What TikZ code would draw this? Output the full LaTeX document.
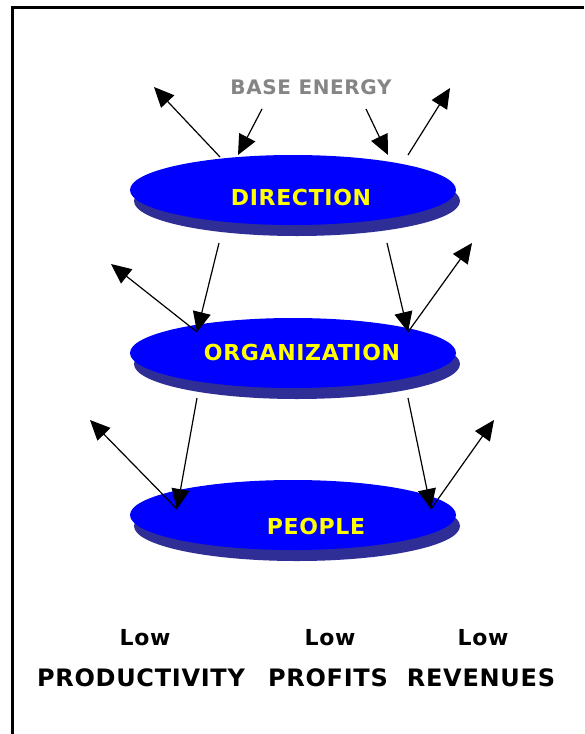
\documentclass[tikz,border=0pt]{standalone}
\usepackage{fontspec}
\setmainfont{DejaVu Sans}
\newfontfamily\labfont[LetterSpace=3]{DejaVu Sans Bold}
\usetikzlibrary{arrows.meta,shapes.geometric,shadows}
\definecolor{discblue}{HTML}{0000FF}
\definecolor{discshade}{HTML}{2E2E96}
\definecolor{txtyellow}{HTML}{FFFF00}
\definecolor{txtgray}{HTML}{858585}
\tikzset{
  disc/.style={ellipse, fill=discblue, minimum width=326pt, minimum height=70pt, inner sep=0pt,
    drop shadow={shadow xshift=4pt, shadow yshift=-11pt, fill=discshade, opacity=1}},
  disclabel/.style={text=txtyellow, font=\labfont\fontsize{22}{22}\selectfont, inner sep=0pt},
  flow/.style={line width=1.2pt, -{Triangle[length=20pt,width=18pt]}},
  bottomtxt/.style={font=\labfont\fontsize{24}{24}\selectfont, inner sep=0pt},
  lowtxt/.style={font=\labfont\fontsize{22}{22}\selectfont, inner sep=0pt},
  frameline/.style={line width=3pt}
}
\begin{document}
\begin{tikzpicture}[x=1pt,y=-1pt]
\useasboundingbox (0,0) rectangle (584,734);
\fill[white] (0,0) rectangle (584,734);
% frame
\coordinate (fbl) at (12.5,734);
\coordinate (ftl) at (12.5,7.5);
\coordinate (ftr) at (584,7.5);
\draw[frameline] (fbl) -- (ftl) -- (ftr);
% title
\node[text=txtgray, font=\labfont\fontsize{20}{20}\selectfont, inner sep=0pt] (base) at (311,87) {BASE ENERGY};
% discs
\node[disc] (dir) at (293,190) {};
\node[disc] (org) at (293,353) {};
\node[disc] (ppl) at (293,515) {};
\node[disclabel] (dirt) at (301,197) {DIRECTION};
\node[disclabel] (orgt) at (302,352) {ORGANIZATION};
\node[disclabel] (pplt) at (316,526) {PEOPLE};
% coordinates
\coordinate (a1s) at (220,157); \coordinate (a1e) at (154,87);
\coordinate (a2s) at (262,109); \coordinate (a2e) at (238,155);
\coordinate (a3s) at (366,109); \coordinate (a3e) at (388,155);
\coordinate (a4s) at (408,155); \coordinate (a4e) at (450,88);
\coordinate (b1s) at (219,243); \coordinate (b1e) at (197,332);
\coordinate (b2s) at (197,332); \coordinate (b2e) at (111,264);
\coordinate (b3s) at (387,243); \coordinate (b3e) at (408,332);
\coordinate (b4s) at (408,332); \coordinate (b4e) at (472,243);
\coordinate (c1s) at (197,398); \coordinate (c1e) at (177,509);
\coordinate (c2s) at (177,509); \coordinate (c2e) at (90,420);
\coordinate (c3s) at (408,398); \coordinate (c3e) at (431,509);
\coordinate (c4s) at (431,509); \coordinate (c4e) at (494,420);
\foreach \n in {a1,a2,a3,a4,b1,b2,b3,b4,c1,c2,c3,c4}{
  \draw[flow] (\n s) -- (\n e);
}
% bottom texts
\node[lowtxt] (low1) at (145,638) {Low};
\node[lowtxt] (low2) at (330,638) {Low};
\node[lowtxt] (low3) at (483,638) {Low};
\node[bottomtxt] (prod) at (141,678) {PRODUCTIVITY};
\node[bottomtxt] (prof) at (328,678) {PROFITS};
\node[bottomtxt] (rev) at (481,678) {REVENUES};
\end{tikzpicture}
\end{document}
